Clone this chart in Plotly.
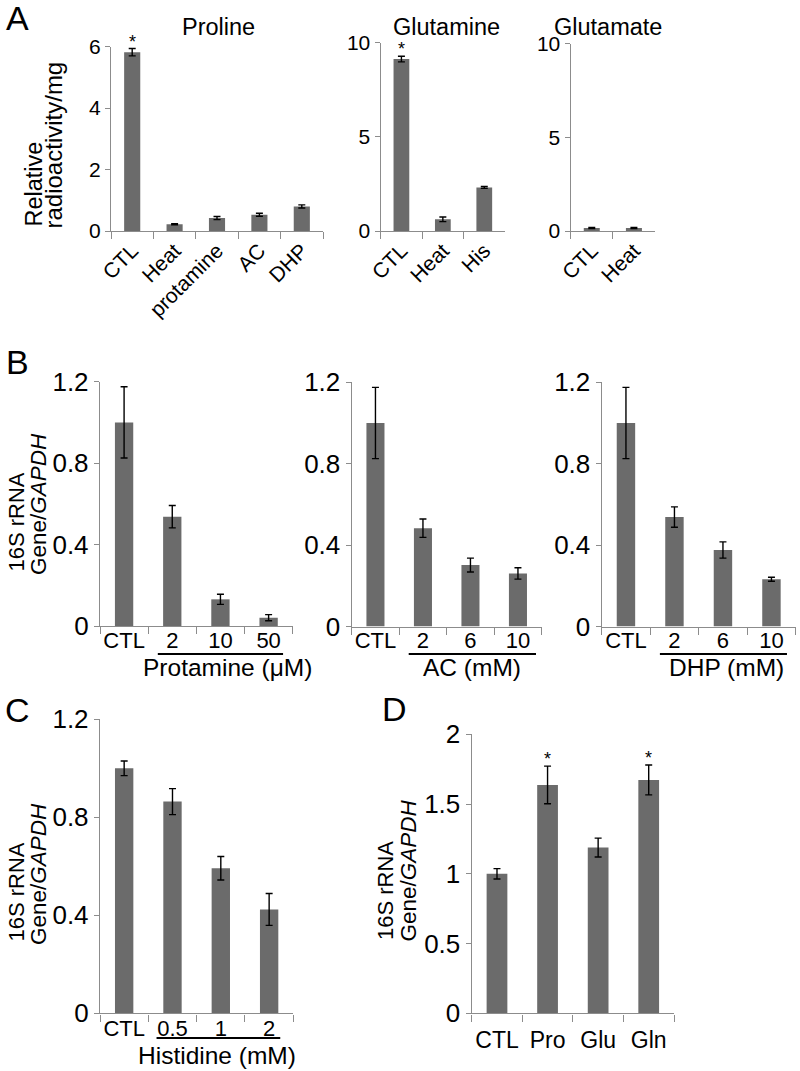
import plotly.graph_objects as go

# ---------------- data ----------------
pro_cats = ["CTL", "Heat", "protamine", "AC", "DHP"]
pro_vals = [5.82, 0.22, 0.42, 0.53, 0.80]
pro_err = [0.12, 0.02, 0.05, 0.05, 0.05]

gln_cats = ["CTL", "Heat", "His"]
gln_vals = [9.12, 0.62, 2.31]
gln_err = [0.15, 0.12, 0.05]

glu_cats = ["CTL", "Heat"]
glu_vals = [0.16, 0.16]
glu_err = [0.03, 0.03]

protamine_cats = ["CTL", "2", "10", "50"]
protamine_vals = [1.0, 0.537, 0.131, 0.041]
protamine_err = [0.175, 0.055, 0.025, 0.015]

ac_cats = ["CTL", "2", "6", "10"]
ac_vals = [1.0, 0.483, 0.302, 0.261]
ac_err = [0.175, 0.045, 0.034, 0.028]

dhp_cats = ["CTL", "2", "6", "10"]
dhp_vals = [1.0, 0.538, 0.376, 0.232]
dhp_err = [0.175, 0.05, 0.04, 0.01]

his_cats = ["CTL", "0.5", "1", "2"]
his_vals = [1.0, 0.864, 0.592, 0.424]
his_err = [0.03, 0.053, 0.048, 0.065]

aa_cats = ["CTL", "Pro", "Glu", "Gln"]
aa_vals = [1.0, 1.637, 1.188, 1.673]
aa_err = [0.037, 0.135, 0.068, 0.107]

W, H = 800, 1071
FONT = "Liberation Sans, Arial, sans-serif"
BAR = "#6b6b6b"
AXC = "#8c8c8c"


def px(x):
    return x / W


def py(y):
    return 1 - y / H


fig = go.Figure()

# (cats, vals, err, x-domain px, y-domain px (bottom, top), yrange, yticks,
#  ytickfont, xtickfont, tickangle, barwidth, label standoff)
panels = [
    (pro_cats, pro_vals, pro_err, (111, 323), (231, 46.7), [0, 6], [0, 2, 4, 6], 21, 21, -45, 0.38, -2),
    (gln_cats, gln_vals, gln_err, (380.7, 505), (231, 42.5), [0, 10], [0, 5, 10], 21, 21, -45, 0.38, -2),
    (glu_cats, glu_vals, glu_err, (570.7, 655), (231, 43.5), [0, 10], [0, 5, 10], 21, 21, -45, 0.38, -2),
    (protamine_cats, protamine_vals, protamine_err, (100, 292.7), (626, 381.7), [0, 1.2], [0, 0.4, 0.8, 1.2], 26, 22, 0, 0.38, -6),
    (ac_cats, ac_vals, ac_err, (351.7, 541.7), (626.5, 382.3), [0, 1.2], [0, 0.4, 0.8, 1.2], 26, 22, 0, 0.38, -6),
    (dhp_cats, dhp_vals, dhp_err, (601.7, 795.7), (626.5, 382.3), [0, 1.2], [0, 0.4, 0.8, 1.2], 26, 22, 0, 0.38, -6),
    (his_cats, his_vals, his_err, (100, 293.3), (1013.3, 719.3), [0, 1.2], [0, 0.4, 0.8, 1.2], 26, 22, 0, 0.38, -5),
    (aa_cats, aa_vals, aa_err, (471.7, 674), (1013.3, 734.3), [0, 2], [0, 0.5, 1, 1.5, 2], 26, 23, 0, 0.41, 6),
]

layout_axes = {}
for i, (cats, vals, err, xd, yd, yr, yt, ytf, xtf, ang, bw, so) in enumerate(panels):
    n = i + 1
    xa = "x" if n == 1 else f"x{n}"
    ya = "y" if n == 1 else f"y{n}"
    fig.add_trace(go.Bar(
        x=cats, y=vals, width=bw, marker=dict(color=BAR, line=dict(width=0)),
        error_y=dict(type="data", array=err, visible=True, color="black", thickness=1.4, width=3.5),
        xaxis=xa, yaxis=ya, showlegend=False, hoverinfo="skip",
    ))
    xkey = "xaxis" if n == 1 else f"xaxis{n}"
    ykey = "yaxis" if n == 1 else f"yaxis{n}"
    layout_axes[xkey] = dict(
        domain=[px(xd[0]), px(xd[1])], anchor=ya, type="category", automargin=False,
        range=[-0.5, len(cats) - 0.5], showgrid=False, zeroline=False,
        showline=True, linecolor=AXC, linewidth=1.4,
        ticks="outside", tickson="boundaries", ticklen=7, tickcolor=AXC, tickwidth=1.4,
        tickangle=ang, ticklabelstandoff=so,
        tickfont=dict(family=FONT, size=xtf, color="black"),
    )
    layout_axes[ykey] = dict(
        domain=[py(yd[0]), py(yd[1])], anchor=xa, range=yr, tickvals=yt, automargin=False,
        showgrid=False, zeroline=False, showline=True, linecolor=AXC, linewidth=1.4,
        ticks="outside", ticklen=5, tickcolor=AXC, tickwidth=1.4,
        tickfont=dict(family=FONT, size=ytf, color="black"),
    )

annotations = []


def ann(text, x, y, size, **kw):
    d = dict(text=text, x=x, y=y, xref="paper", yref="paper", showarrow=False,
             font=dict(family=FONT, size=size, color="black"), xanchor="center", yanchor="middle")
    d.update(kw)
    annotations.append(d)


# panel letters
ann("A", px(17), py(18), 34)
ann("B", px(17), py(362), 34)
ann("C", px(17), py(710), 34)
ann("D", px(394), py(709), 34)

# subplot titles in A
ann("Proline", px(218), py(27), 23.5)
ann("Glutamine", px(446), py(27), 23.5)
ann("Glutamate", px(608), py(27), 23.5)

# y-axis titles: each line placed separately (tight line spacing), text starting at bottom
ylines = [
    ("Relative", 33, 229, 23.5), ("radioactivity/mg", 53, 231, 24),
    ("16S rRNA", 16, 574, 22), ("Gene/<i>GAPDH</i>", 38, 577, 22.5),
    ("16S rRNA", 16, 944, 22), ("Gene/<i>GAPDH</i>", 38, 947, 22.5),
    ("16S rRNA", 385.5, 942, 22), ("Gene/<i>GAPDH</i>", 407.5, 944, 22.5),
]
for t, xx, yy, fs in ylines:
    ann(t, px(xx), py(yy), fs, textangle=-90, yanchor="bottom")

# group labels
ann("Protamine (μM)", px(228), py(667), 24.5)
ann("AC (mM)", px(472.5), py(667), 24.5)
ann("DHP (mM)", px(726), py(667), 24.5)
ann("Histidine (mM)", px(217.5), py(1055), 24.5)

# significance stars
star_specs = [("x", "y", pro_cats, pro_vals, pro_err, [0]),
              ("x2", "y2", gln_cats, gln_vals, gln_err, [0]),
              ("x8", "y8", aa_cats, aa_vals, aa_err, [1, 3])]
for xr, yr_, cats, vals, err, idxs in star_specs:
    for k in idxs:
        annotations.append(dict(text="*", x=cats[k], y=vals[k] + err[k], xref=xr, yref=yr_,
                                showarrow=False, yanchor="bottom", yshift=-5,
                                font=dict(family=FONT, size=18, color="black")))

# underlines for dose groups
shapes = []
for xr, x0, x1, yline in [("x4", 0.7, 3.3, 654), ("x5", 0.7, 3.38, 654), ("x6", 0.7, 3.32, 654), ("x7", 0.67, 3.23, 1038)]:
    shapes.append(dict(type="line", xref=xr, yref="paper", x0=x0, x1=x1, y0=py(yline), y1=py(yline),
                       line=dict(color="black", width=2)))

fig.update_layout(
    width=W, height=H, margin=dict(l=0, r=0, t=0, b=0, pad=0, autoexpand=False),
    paper_bgcolor="white", plot_bgcolor="white",
    font=dict(family=FONT, color="black"),
    annotations=annotations, shapes=shapes, hovermode=False,
    **layout_axes,
)

fig.write_html("out.html", config={"displayModeBar": False},
               post_script="document.body.style.margin='0px';")
